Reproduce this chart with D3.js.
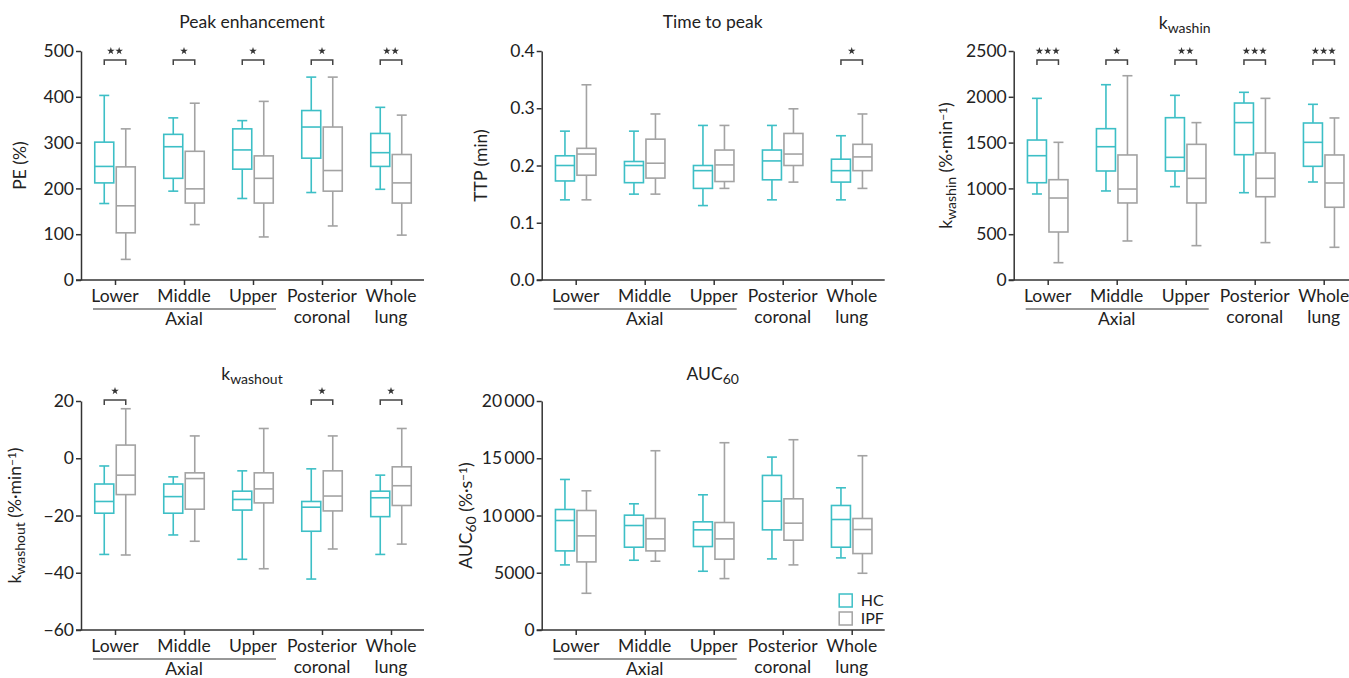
<!DOCTYPE html>
<html>
<head>
<meta charset="utf-8">
<script src="https://cdn.jsdelivr.net/npm/d3@7"></script>
<style>
  body { margin: 0; background: #fff; }
  text { font-family: "Source Sans Pro", Lato, sans-serif; fill: #222; }
</style>
</head>
<body>
<svg width="1349" height="678"></svg>
<script>
// categories along every x axis
const categories = ["Lower", "Middle", "Upper", "Posterior coronal", "Whole lung"];
const catLines = [["Lower"], ["Middle"], ["Upper"], ["Posterior", "coronal"], ["Whole", "lung"]];
const groups = ["HC", "IPF"];

// box data: [min, q1, median, q3, max] per category
const peHC  = [[167, 212, 248, 301, 403], [194, 222, 291, 318, 354], [178, 242, 284, 330, 348], [191, 266, 334, 370, 443], [198, 248, 278, 320, 377]];
const peIPF = [[45, 103, 162, 247, 330], [121, 168, 199, 281, 386], [94, 168, 222, 271, 390], [118, 194, 239, 334, 443], [98, 168, 212, 274, 360]];
const peSig = ["**", "*", "*", "*", "**"];

const ttpHC  = [[0.14, 0.173, 0.2, 0.217, 0.26], [0.15, 0.17, 0.2, 0.207, 0.26], [0.13, 0.16, 0.191, 0.2, 0.27], [0.14, 0.175, 0.208, 0.227, 0.27], [0.14, 0.171, 0.191, 0.211, 0.252]];
const ttpIPF = [[0.14, 0.183, 0.22, 0.23, 0.341], [0.15, 0.178, 0.204, 0.246, 0.29], [0.16, 0.172, 0.201, 0.227, 0.27], [0.171, 0.2, 0.22, 0.256, 0.299], [0.16, 0.191, 0.215, 0.237, 0.29]];
const ttpSig = ["", "", "", "", "*"];

const kinHC  = [[939, 1062, 1357, 1528, 1983], [972, 1190, 1455, 1652, 2132], [1019, 1190, 1339, 1772, 2016], [953, 1368, 1718, 1932, 2049], [1070, 1241, 1503, 1714, 1918]];
const kinIPF = [[189, 524, 895, 1095, 1503], [426, 841, 993, 1365, 2230], [375, 841, 1110, 1481, 1718], [408, 909, 1110, 1386, 1983], [357, 794, 1059, 1365, 1769]];
const kinSig = ["***", "*", "**", "***", "***"];

const koutHC  = [[-33.6, -19.2, -15.1, -9.0, -2.7], [-26.8, -19.2, -13.4, -9.0, -6.5], [-35.3, -18.1, -14.4, -11.5, -4.4], [-42.2, -25.5, -17.1, -15.1, -3.7], [-33.6, -20.4, -13.8, -11.5, -5.9]];
const koutIPF = [[-33.8, -12.7, -5.9, 4.6, 17.3], [-29.0, -17.8, -7.1, -5.1, 7.8], [-38.6, -15.6, -10.7, -5.1, 10.4], [-31.7, -18.4, -13.2, -4.4, 7.8], [-30.0, -16.5, -9.6, -3.0, 10.4]];
const koutSig = ["*", "", "", "*", "*"];

const aucHC  = [[5685, 6910, 9563, 10525, 13149], [6093, 7230, 9126, 10029, 11021], [5131, 7289, 8747, 9446, 11808], [6210, 8747, 11254, 13499, 15102], [6297, 7230, 9650, 10875, 12420]];
const aucIPF = [[3207, 5948, 8222, 10437, 12158], [6006, 6910, 7959, 9738, 15656], [4490, 6181, 7959, 9388, 16356], [5685, 7843, 9330, 11458, 16618], [4956, 6676, 8776, 9738, 15219]];
const aucSig = ["", "", "", "", ""];

// tick values
const peTicks = [0, 100, 200, 300, 400, 500];
const ttpTicks = [0, 0.1, 0.2, 0.3, 0.4];
const kinTicks = [0, 500, 1000, 1500, 2000, 2500];
const koutTicks = [-60, -40, -20, 0, 20];
const aucTicks = [0, 5000, 10000, 15000, 20000];

const colors = { HC: "#3dbfc6", IPF: "#a3a3a3" };
const W = 343, H = 229;
const FS = "17.5px";
const svg = d3.select("svg");

function addRich(sel, parts) {
  parts.forEach(function(p) {
    let t = sel.append("tspan").text(p.t);
    if (p.sub) t.attr("baseline-shift", "-25%").style("font-size", "14px");
    if (p.sup) t.attr("baseline-shift", "40%").style("font-size", "12px");
  });
}

function drawPanel(o) {
  let g = svg.append("g").attr("transform", "translate(" + o.left + "," + o.top + ")");

  let y = d3.scaleLinear().domain(o.domain).range([H, 0]);
  let x = d3.scalePoint().domain(categories).range([34, 310]);
  let xs = d3.scalePoint().domain(groups).range([-10.75, 10.75]);

  // axes
  let yAxis = d3.axisLeft(y).tickValues(o.ticks).tickSize(5).tickSizeOuter(0).tickFormat(o.fmt);
  let ya = g.append("g").call(yAxis);
  let xAxis = d3.axisBottom(x).tickSize(5).tickSizeOuter(0).tickFormat("");
  let xa = g.append("g").attr("transform", "translate(0," + H + ")").call(xAxis);
  xa.select(".domain").attr("d", "M-5,0H" + W);
  [ya, xa].forEach(function(a) {
    a.selectAll("path, line").attr("stroke", "#333").attr("stroke-width", 1.5);
    a.selectAll("text").style("font-size", FS).attr("fill", "#222");
  });
  ya.selectAll("text").attr("x", -7);

  // category labels
  categories.forEach(function(c, i) {
    let t = g.append("text").attr("x", x(c)).attr("y", H + 22)
      .attr("text-anchor", "middle").style("font-size", FS);
    catLines[i].forEach(function(l, j) {
      t.append("tspan").attr("x", x(c)).attr("dy", j === 0 ? 0 : 21).text(l);
    });
  });
  g.append("line").attr("x1", x("Lower") - 22).attr("x2", x("Upper") + 23)
    .attr("y1", H + 29).attr("y2", H + 29).attr("stroke", "#333").attr("stroke-width", 1.2);
  g.append("text").attr("x", x("Middle")).attr("y", H + 45)
    .attr("text-anchor", "middle").style("font-size", FS).text("Axial");

  // boxes
  [["HC", o.hc], ["IPF", o.ipf]].forEach(function(s) {
    let grp = s[0];
    s[1].forEach(function(d, i) {
      let cx = x(categories[i]) + xs(grp);
      let b = g.append("g").attr("stroke", colors[grp]).attr("stroke-width", 1.6).attr("fill", "none");
      b.append("line").attr("x1", cx).attr("x2", cx).attr("y1", y(d[4])).attr("y2", y(d[3]));
      b.append("line").attr("x1", cx).attr("x2", cx).attr("y1", y(d[1])).attr("y2", y(d[0]));
      b.append("line").attr("x1", cx - 5).attr("x2", cx + 5).attr("y1", y(d[4])).attr("y2", y(d[4]));
      b.append("line").attr("x1", cx - 5).attr("x2", cx + 5).attr("y1", y(d[0])).attr("y2", y(d[0]));
      b.append("rect").attr("x", cx - 9.5).attr("width", 19)
        .attr("y", y(d[3])).attr("height", y(d[1]) - y(d[3]));
      b.append("line").attr("x1", cx - 9.5).attr("x2", cx + 9.5).attr("y1", y(d[2])).attr("y2", y(d[2]));
    });
  });

  // significance brackets
  o.sig.forEach(function(s, i) {
    if (!s) return;
    let x1 = x(categories[i]) + xs("HC"), x2 = x(categories[i]) + xs("IPF");
    let by = o.bracketY;
    g.append("path").attr("d", "M" + x1 + "," + (by + 5) + "V" + by + "H" + x2 + "V" + (by + 5))
      .attr("fill", "none").attr("stroke", "#444").attr("stroke-width", 1.5);
    let n = s.length;
    for (let k = 0; k < n; k++) {
      let sx = x(categories[i]) + (k - (n - 1) / 2) * 8.3;
      g.append("path").attr("d", d3.symbol(d3.symbolStar, 18)())
        .attr("transform", "translate(" + sx + "," + (by - 9) + ")").attr("fill", "#333");
    }
  });

  // title
  let tt = g.append("text").attr("x", 171).attr("y", o.titleY)
    .attr("text-anchor", "middle").style("font-size", FS);
  addRich(tt, o.title);

  // y label
  let yl = g.append("text").attr("transform", "translate(" + o.ylabX + "," + (H / 2) + ") rotate(-90)")
    .attr("text-anchor", "middle").style("font-size", FS);
  addRich(yl, o.ylabel);

  return g;
}

const sep = function(d) { return d3.format(",")(d).replace(/,/g, "\u2009"); };

drawPanel({ left: 81, top: 51, domain: [0, 500], ticks: peTicks, fmt: d3.format("d"),
  hc: peHC, ipf: peIPF, sig: peSig, bracketY: 9, titleY: -23,
  title: [{ t: "Peak enhancement" }], ylabX: -55, ylabel: [{ t: "PE (%)" }] });

drawPanel({ left: 541.7, top: 51, domain: [0, 0.4], ticks: ttpTicks, fmt: d3.format(".1f"),
  hc: ttpHC, ipf: ttpIPF, sig: ttpSig, bracketY: 9, titleY: -23,
  title: [{ t: "Time to peak" }], ylabX: -55, ylabel: [{ t: "TTP (min)" }] });

drawPanel({ left: 1013.7, top: 51, domain: [0, 2500], ticks: kinTicks, fmt: d3.format("d"),
  hc: kinHC, ipf: kinIPF, sig: kinSig, bracketY: 9, titleY: -22,
  title: [{ t: "k" }, { t: "washin", sub: true }], ylabX: -62,
  ylabel: [{ t: "k" }, { t: "washin", sub: true }, { t: " (%\u00b7min" }, { t: "\u22121", sup: true }, { t: ")" }] });

drawPanel({ left: 81, top: 401, domain: [-60, 20], ticks: koutTicks, fmt: function(d) { return d < 0 ? "\u2212" + Math.abs(d) : d; },
  hc: koutHC, ipf: koutIPF, sig: koutSig, bracketY: -1, titleY: -21,
  title: [{ t: "k" }, { t: "washout", sub: true }], ylabX: -60,
  ylabel: [{ t: "k" }, { t: "washout", sub: true }, { t: " (%\u00b7min" }, { t: "\u22121", sup: true }, { t: ")" }] });

let auc = drawPanel({ left: 541.7, top: 401, domain: [0, 20000], ticks: aucTicks, fmt: function(d) { return d >= 10000 ? sep(d) : d; },
  hc: aucHC, ipf: aucIPF, sig: aucSig, bracketY: -1, titleY: -21,
  title: [{ t: "AUC" }, { t: "60", sub: true }], ylabX: -70,
  ylabel: [{ t: "AUC" }, { t: "60", sub: true }, { t: " (%\u00b7s" }, { t: "\u22121", sup: true }, { t: ")" }] });

// legend
groups.forEach(function(gname, i) {
  auc.append("rect").attr("x", 297.5).attr("y", 193 + i * 18).attr("width", 13).attr("height", 13)
    .attr("fill", "none").attr("stroke", colors[gname]).attr("stroke-width", 1.5);
  auc.append("text").attr("x", 319).attr("y", 205 + i * 18).style("font-size", "16px").text(gname);
});
</script>
</body>
</html>
